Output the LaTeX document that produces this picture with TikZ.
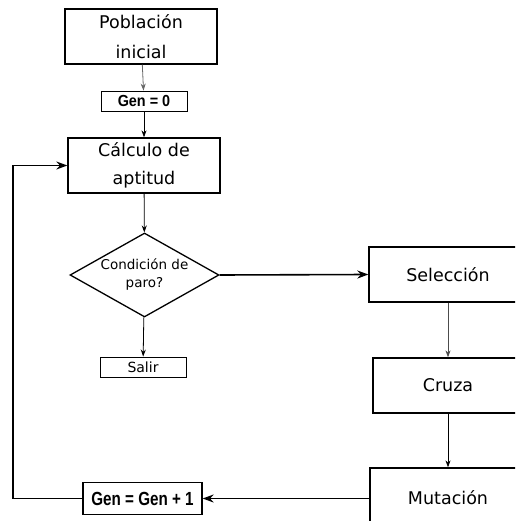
\documentclass[tikz,border=0pt]{standalone}
\usepackage{fontspec}
\setmainfont{DejaVu Sans}
\newfontfamily\genfont{Liberation Sans}
\usetikzlibrary{arrows.meta, positioning, shapes.geometric}
\tikzset{
    bigbox/.style={draw, line width=1.3pt, minimum width=152pt, minimum height=55pt, inner sep=0pt, align=center, font=\fontsize{17.5}{28}\selectfont}, % cajas principales
    smallbox/.style={draw, line width=0.8pt, minimum width=86pt, minimum height=20pt, inner sep=0pt, align=center},
    decision/.style={draw, diamond, line width=1.3pt, aspect=1.77, minimum width=149pt, minimum height=84pt, inner sep=0pt, align=center, font=\fontsize{13.5}{18}\selectfont},
    thinarrow/.style={line width=0.8pt, -{Stealth[length=7pt, width=5pt]}},
    thickarrow/.style={line width=1.6pt, -{Stealth[length=11pt, width=8pt]}},
}

\begin{document}
\begin{tikzpicture}[x=1pt, y=-1pt]

            \useasboundingbox (0,0) rectangle (515,521);
            \clip (0,0) rectangle (515,521);

            % Cajas
            \node[bigbox, font=\fontsize{17.5}{30}\selectfont] (pop) at (141,36.5) {Población\\inicial};
            \node[smallbox] (gen0) at (144,101) {\scalebox{0.9}[1]{\genfont\bfseries\fontsize{16}{18}\selectfont Gen = 0}};
            \node[bigbox] (calc) at (144,165.5) {Cálculo de\\aptitud};
            \node[decision] (cond) at (144.5,275) {Condición de\\paro?};
            \node[smallbox, font=\fontsize{14}{16}\selectfont] (salir) at (143,367) {Salir};
            \node[bigbox, minimum width=158pt] (sel) at (448,274.5) {Selección};
            \node[bigbox, minimum width=150pt] (cruza) at (448,385.5) {Cruza};
            \node[bigbox, minimum width=156pt, minimum height=60pt] (mut) at (448,498) {Mutación};
            \node[draw, line width=1.3pt, minimum width=119pt, minimum height=32pt, inner sep=0pt] (genplus) at (142.5,498.5)
                {\scalebox{0.8}[1]{\genfont\bfseries\fontsize{19}{21}\selectfont Gen = Gen + 1}};
            \coordinate (back) at (13,0);

            % Flechas
            \draw[thinarrow, draw=black!60] (pop) -- (gen0);
            \draw[thinarrow] (gen0) -- (calc);
            \draw[thinarrow] (calc) -- (cond);
            \draw[thinarrow] (cond) -- (salir);
            \draw[thickarrow] (cond.east) -- (sel.west);
            \draw[thinarrow, draw=black!70] (sel) -- (cruza);
            \draw[thinarrow] (cruza) -- (mut);
            \draw[thickarrow] (mut.west |- genplus.east) -- (genplus.east);
            \draw[thickarrow] (genplus.west) -| (back |- calc.west) -- (calc.west);

        \end{tikzpicture}
\end{document}
